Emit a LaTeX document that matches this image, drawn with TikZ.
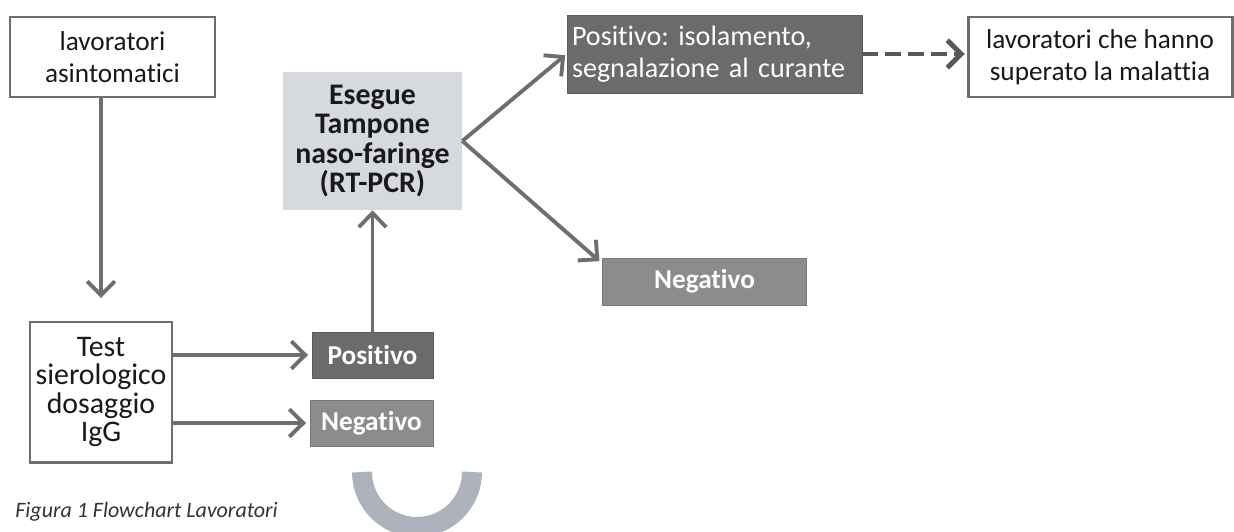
\documentclass[tikz,border=0pt]{standalone}
\usepackage{fontspec}
\setmainfont{Carlito}[Ligatures=NoCommon]
\usetikzlibrary{arrows.meta}
\definecolor{linegray}{HTML}{6E6E6E}
\definecolor{darkbox}{HTML}{6B6B6B}
\definecolor{midbox}{HTML}{8C8C8C}
\definecolor{lightbox}{HTML}{D6D9DE}
\definecolor{ringgray}{HTML}{AEB2BC}
\definecolor{capgray}{HTML}{333333}
\frenchspacing

\begin{document}
\begin{tikzpicture}[
	whitebox/.style={draw=linegray, line width=1.7pt, fill=white, align=center, inner sep=0pt, text=black!90},
	greybox/.style={draw=darkbox!85!black, line width=0.5pt, fill=darkbox, text=white, inner sep=0pt, font=\bfseries\fontsize{15.5}{16}\selectfont},
	flow/.style={draw=linegray, line width=2.2pt, -{Straight Barb[length=2.8mm,width=5.5mm]}},
]
	\useasboundingbox (0,0) rectangle (24.68,-10.62);
	\node[whitebox, minimum width=4.1cm, minimum height=1.6cm, font=\fontsize{15.5}{18}\selectfont] (asint) at (2.25,-1.14) {lavoratori\\asintomatici};
	\node[whitebox, minimum width=2.84cm, minimum height=2.8cm, font=\fontsize{17}{16.2}\selectfont] (test) at (2.02,-7.84) {Test\\sierologico\\dosaggio\\IgG};
	\node[greybox, minimum width=2.42cm, minimum height=0.92cm] (posA) at (7.45,-7.1) {Positivo};
	\node[greybox, fill=midbox, draw=midbox!85!black, minimum width=2.46cm, minimum height=0.92cm] (negA) at (7.43,-8.46) {Negativo};
	\node[fill=lightbox, minimum width=3.58cm, minimum height=2.76cm, inner sep=0pt, align=center, text=black!90, font=\bfseries\fontsize{17}{16.8}\selectfont] (tamp) at (7.45,-2.82) {Esegue\\Tampone\\naso-faringe\\(RT-PCR)};
	\node[greybox, text width=5.7cm, inner xsep=0.1cm, minimum height=1.56cm, align=left, font=\fontsize{16}{18}\selectfont] (posB) at (14.29,-1.08) {Positivo: isolamento,\\segnalazione al curante};
	\node[greybox, fill=midbox, draw=midbox!85!black, minimum width=4.08cm, minimum height=0.94cm] (negB) at (14.09,-5.63) {Negativo};
	\node[whitebox, minimum width=5.28cm, minimum height=1.6cm, font=\fontsize{15.5}{18}\selectfont] (guar) at (22.0,-1.14) {lavoratori che hanno\\superato la malattia};
	\node[anchor=base west, inner sep=0pt, text=capgray, font=\itshape\fontsize{12.5}{14}\selectfont] (cap) at (0.3,-10.34) {Figura 1 Flowchart Lavoratori};

	\draw[flow, shorten >=0.45cm] (asint.south -| test.north) -- (test.north);
	\draw[flow, shorten >=2pt] (test.east |- posA) -- (posA.west);
	\draw[flow, shorten >=2pt] (test.east |- negA) -- (negA.west);
	\draw[flow] (posA.north) -- (tamp.south);
	\draw[flow, shorten >=1pt] (tamp.east) -- (posB.west);
	\draw[flow, shorten >=2pt] (tamp.east) -- (negB.170);
	\draw[flow, draw=linegray!80!black, line width=2.8pt, dash pattern=on 9pt off 4pt, shorten >=1pt] (posB.east) -- (posB.east -| guar.west);

	\draw[ringgray, line width=0.4cm] (7.24,-9.44) arc (180:360:1.1);
\end{tikzpicture}
\end{document}
